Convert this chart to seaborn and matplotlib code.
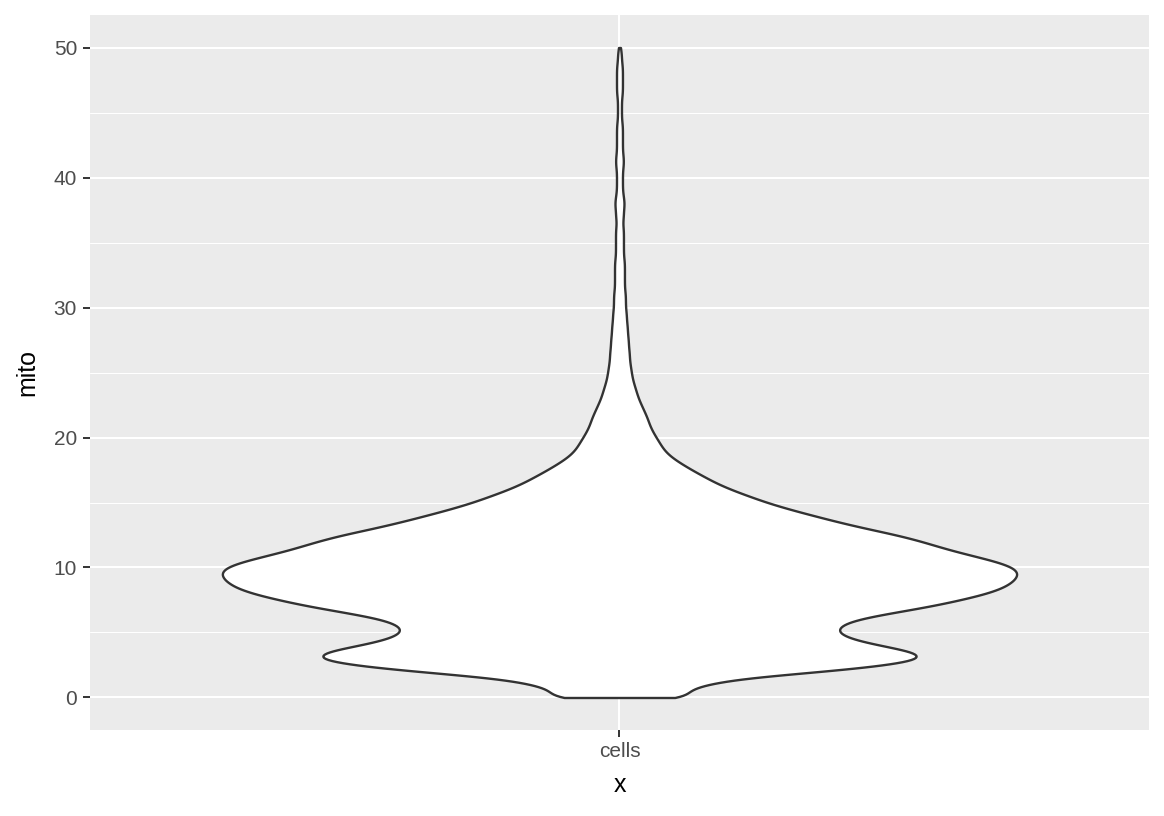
import numpy as np
import pandas as pd
import matplotlib
matplotlib.use("Agg")
import matplotlib.pyplot as plt
import seaborn as sns

# mito % values (binned at 0.5) and number of cells in each bin
mito_core = [0.0, 0.5, 1.0, 1.5, 2.0, 2.5, 3.0, 3.5, 4.0, 4.5,
             5.0, 5.5, 6.0, 6.5, 7.0, 7.5, 8.0, 8.5, 9.0, 9.5,
             10.0, 10.5, 11.0, 11.5, 12.0, 12.5, 13.0, 13.5, 14.0, 14.5,
             15.0, 15.5, 16.0, 16.5, 17.0, 17.5, 18.0, 18.5, 19.0, 19.5,
             20.0, 20.5, 21.0, 21.5, 22.0, 22.5, 23.0, 23.5, 24.0, 24.5, 25.0]
cells_core = [76, 65, 85, 120, 205, 272, 308, 300, 262, 232,
              218, 220, 236, 272, 312, 342, 370, 388, 397, 402,
              398, 378, 350, 325, 305, 280, 248, 220, 195, 170,
              148, 130, 112, 97, 85, 73, 62, 52, 45, 41,
              37, 33, 30, 28, 25, 22, 19, 17, 15, 13, 12]

mito_tail = [25.5, 26.0, 26.5, 27.0, 27.5, 28.0, 28.5, 29.0, 29.5, 30.0,
             30.5, 31.0, 31.5, 32.0, 32.5, 33.0, 33.5, 34.0, 34.5, 35.0,
             35.5, 36.0, 36.5, 37.0, 37.5, 38.0, 38.5, 39.0, 39.5, 40.0,
             40.5, 41.0, 41.5, 42.0, 42.5, 43.0, 43.5, 44.0, 44.5, 45.0,
             45.5, 46.0, 46.5, 47.0, 47.5, 48.0, 48.5, 49.0, 49.5, 50.0]
cells_tail = [11, 10, 10, 9, 9, 8, 8, 7, 7, 6,
              6, 6, 5, 5, 5, 5, 5, 4, 4, 4,
              4, 4, 3, 4, 4, 5, 4, 3, 3, 3,
              3, 4, 4, 3, 3, 3, 3, 3, 2, 2,
              2, 2, 3, 3, 3, 3, 3, 2, 2, 1]

mito = np.repeat(mito_core + mito_tail, cells_core + cells_tail)
df = pd.DataFrame({"x": "cells", "mito": mito})

sns.set_style("darkgrid", {"axes.facecolor": "#EBEBEB", "grid.color": "white"})
plt.rcParams["font.family"] = ["Liberation Sans", "DejaVu Sans"]

fig, ax = plt.subplots(figsize=(11.64, 8.16), dpi=100)
fig.subplots_adjust(left=0.0773, right=0.9871, top=0.9816, bottom=0.1054)

bw = 0.38
sns.violinplot(data=df, x="x", y="mito", color="white", saturation=1,
               linecolor="#333333", linewidth=1.7, width=0.9, cut=0,
               bw_method=bw / df["mito"].std(), gridsize=600, inner=None, ax=ax)

ax.set_xlim(-0.6, 0.6)
ax.set_ylim(-2.5, 52.5)
ax.set_yticks([0, 10, 20, 30, 40, 50])
ax.set_yticks([5, 15, 25, 35, 45], minor=True)
ax.grid(which="major", color="white", linewidth=1.5)
ax.grid(which="minor", axis="y", color="white", linewidth=0.75)
ax.set_axisbelow(True)
for s in ax.spines.values():
    s.set_visible(False)

ax.tick_params(axis="both", which="major", left=True, bottom=True, length=4.8,
               width=1.4, color="#333333", labelsize=15, labelcolor="#4D4D4D", pad=3.5)
ax.tick_params(axis="y", which="major", pad=4.5)
ax.tick_params(axis="both", which="minor", length=0)
ax.set_xlabel("x", fontsize=18, color="black", labelpad=9)
ax.set_ylabel("mito", fontsize=18, color="black", labelpad=10)

fig.savefig("out.png", dpi=100)
